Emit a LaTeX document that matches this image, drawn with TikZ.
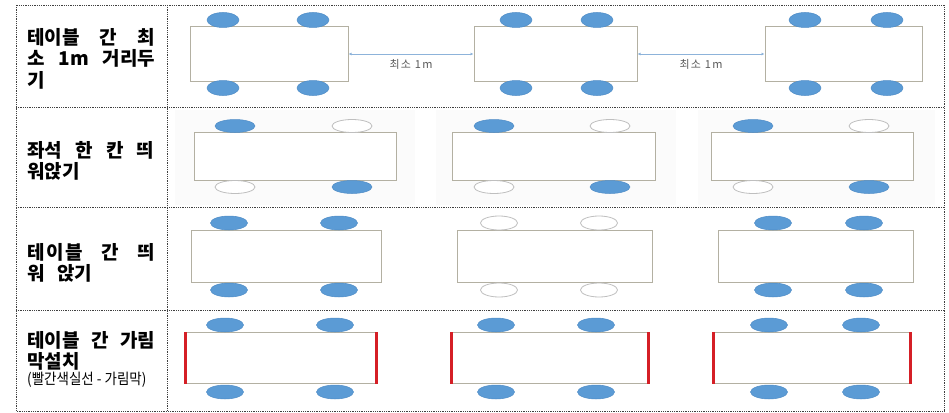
\documentclass[tikz,border=0pt]{standalone}
\usepackage{fontspec}
\setmainfont{Noto Sans CJK KR}
\usepackage{graphicx}
\usepackage{xcolor}
\usetikzlibrary{shapes, positioning, arrows.meta}

\definecolor{seatblue}{HTML}{5B9BD5}
\definecolor{seatedge}{HTML}{4F8CC6}
\definecolor{tableedge}{HTML}{B3B0A2}
\definecolor{gaparrow}{HTML}{8DB3DA}
\definecolor{screenred}{HTML}{D51F26}

\tikzset{
  cell/.style={draw=black!75, densely dotted, line width=0.8pt},
  desk/.style={draw=tableedge, line width=1pt, fill=white, inner sep=0pt},
  seat/.style={ellipse, fill=seatblue, draw=seatedge, line width=0.5pt, inner sep=0pt},
  emptyseat/.style={ellipse, fill=white, draw=black!25, line width=0.8pt, inner sep=0pt},
  gap/.style={draw=gaparrow, line width=0.6pt, {Latex[length=3pt,width=3pt]}-{Latex[length=3pt,width=3pt]}},
  gaplabel/.style={font=\fontsize{11}{13}\selectfont\addfontfeature{LetterSpace=12}, text=black!65},
  screen/.style={draw=screenred, line width=3.5pt},
  rowtitle/.style={anchor=base west, inner sep=0pt, align=left, font=\fontsize{19}{21.5}\selectfont\bfseries},
}

\begin{document}
\begin{tikzpicture}[x=1pt, y=-1pt]
	\useasboundingbox (0,0) rectangle (949,412);
	
	% faint backgrounds of the pasted pictures in row 2
	\foreach \xa/\xb in {175/415, 436/676, 698/935}
		\fill[black!1.5] (\xa,110) rectangle (\xb,205);
	
	% table grid
	\draw[cell] (16,5) rectangle (944,411);
	\draw[cell] (167,5) -- (167,411);
	\foreach \y in {107,207,310}
		\draw[cell] (16,\y) -- (944,\y);
	
	% row titles (base = baseline of the last line)
	\node[rowtitle] (title1) at (27,87) {\makebox[128pt][s]{테이블 간 최}\\\makebox[128pt][s]{소 1m 거리두}\\기};
	\node[rowtitle] (title2) at (27,178.5) {\makebox[127pt][s]{좌석 한 칸 띄}\\워앉기};
	\node[rowtitle] (title3) at (27,280.5) {\addfontfeature{LetterSpace=8}\makebox[128pt][s]{테이블 간 띄}\\워\hspace{8pt} 앉기};
	\node[rowtitle] (title4) at (27,368.5) {\makebox[128pt][s]{테이블 간 가림}\\막설치};
	\node[anchor=base west, inner sep=0pt, font=\fontsize{15}{17}\selectfont] (note4) at (27,384) {\scalebox{0.9}[1]{(빨간색실선 - 가림막)}};
	
	% tables
	\foreach \n/\cx/\cy/\w/\h in {11/269/54/158/54, 12/555.5/54/163/54, 13/843.5/54/157/54,
		21/295/156/202/48, 22/553.5/156/203/48, 23/812/156/202/48,
		31/286/256/190/52, 32/554.5/256/195/52, 33/815.5/256/195/52,
		41/281/358/190/51, 42/550/358/196/51, 43/812/358/196/51}
		\node[desk, minimum width=\w pt, minimum height=\h pt] (t\n) at (\cx,\cy) {};
	
	% seats, row 1
	\foreach \x [count=\i] in {223,313,516,597,805,887} {
		\node[seat, minimum width=32pt, minimum height=15pt] (sa\i) at (\x,20) {};
		\node[seat, minimum width=32pt, minimum height=15pt] (sb\i) at (\x,88) {};
	}
	% seats, row 2
	\foreach \x/\up/\down [count=\i] in {235/seat/emptyseat, 352/emptyseat/seat, 494/seat/emptyseat,
		610/emptyseat/seat, 753/seat/emptyseat, 869/emptyseat/seat} {
		\node[\up, minimum width=40pt, minimum height=13pt] (sc\i) at (\x,126) {};
		\node[\down, minimum width=40pt, minimum height=13pt] (sd\i) at (\x,187) {};
	}
	% seats, row 3
	\foreach \x/\s [count=\i] in {229/seat, 339/seat, 499/emptyseat, 599/emptyseat, 773/seat, 864/seat} {
		\node[\s, minimum width=37pt, minimum height=14pt] (se\i) at (\x,223) {};
		\node[\s, minimum width=37pt, minimum height=14pt] (sf\i) at (\x,290) {};
	}
	% seats, row 4
	\foreach \x [count=\i] in {225,335,496,596,769,861} {
		\node[seat, minimum width=37pt, minimum height=14pt] (sg\i) at (\x,325) {};
		\node[seat, minimum width=37pt, minimum height=14pt] (sh\i) at (\x,392) {};
	}
	
	% distance arrows
	\draw[gap] (t11.east) -- (t12.west) node[midway, below=2pt, gaplabel] (gap1) {최소 1m};
	\draw[gap] (t12.east) -- (t13.west) node[midway, below=2pt, gaplabel] (gap2) {최소 1m};
	
	% screens
	\foreach \n in {41,42,43} {
		\draw[screen] (t\n.north west) -- (t\n.south west);
		\draw[screen] (t\n.north east) -- (t\n.south east);
	}
\end{tikzpicture}
\end{document}
